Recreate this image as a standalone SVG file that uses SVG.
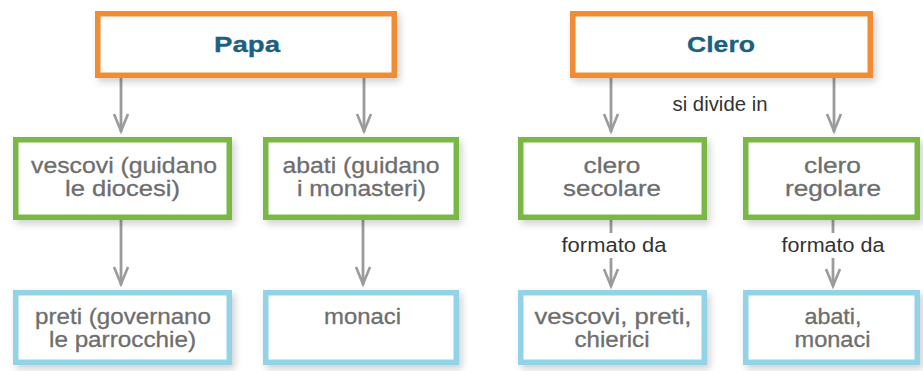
<svg xmlns="http://www.w3.org/2000/svg" width="923" height="371" viewBox="0 0 923 371">
<style>
.bg{fill:#ffffff}
.box{fill:#ffffff;stroke-width:5.5;filter:url(#sh)}
.or{stroke:#f28c31}
.gr{stroke:#79b845}
.bl{stroke:#93d3e8}
.title{font-family:"Liberation Sans",Arial,sans-serif;font-weight:bold;font-size:22px;fill:#1b5f82;stroke:#1b5f82;stroke-width:0.3;text-anchor:middle}
.body{font-family:"Liberation Sans",Arial,sans-serif;font-size:22px;fill:#6e6e6e;stroke:#6e6e6e;stroke-width:0.3;text-anchor:middle}
.lab{font-family:"Liberation Sans",Arial,sans-serif;font-size:19.5px;fill:#333333;text-anchor:middle}
.ln{stroke:#9b9b9b;stroke-width:2.8;fill:none}
.hd{stroke:#9b9b9b;stroke-width:2.6;fill:none;stroke-linejoin:miter}
</style>
<defs>
<filter id="sh" x="-10%" y="-20%" width="125%" height="150%">
<feDropShadow dx="3" dy="4" stdDeviation="3.5" flood-color="#000000" flood-opacity="0.18"/>
</filter>
</defs>
<rect class="bg" x="0" y="0" width="923" height="371"/>

<g id="connectors">
<line class="ln" x1="121" y1="78" x2="121" y2="132"/>
<polyline class="hd" points="114,114 121,131 128,114"/>
<line class="ln" x1="364" y1="78" x2="364" y2="132"/>
<polyline class="hd" points="357,114 364,131 371,114"/>
<line class="ln" x1="611" y1="78" x2="611" y2="132"/>
<polyline class="hd" points="604,114 611,131 618,114"/>
<line class="ln" x1="834" y1="78" x2="834" y2="132"/>
<polyline class="hd" points="827,114 834,131 841,114"/>
<line class="ln" x1="121" y1="220" x2="121" y2="285"/>
<polyline class="hd" points="114,267 121,284 128,267"/>
<line class="ln" x1="363" y1="220" x2="363" y2="285"/>
<polyline class="hd" points="356,267 363,284 370,267"/>
<line class="ln" x1="611" y1="220" x2="611" y2="233"/>
<line class="ln" x1="611" y1="258" x2="611" y2="286"/>
<polyline class="hd" points="604,269 611,286 618,269"/>
<line class="ln" x1="833" y1="220" x2="833" y2="233"/>
<line class="ln" x1="833" y1="258" x2="833" y2="286"/>
<polyline class="hd" points="826,269 833,286 840,269"/>
<text class="lab" x="720" y="111" textLength="95" lengthAdjust="spacingAndGlyphs">si divide in</text>
<text class="lab" x="614" y="252" textLength="105" lengthAdjust="spacingAndGlyphs">formato da</text>
<text class="lab" x="833" y="252" textLength="103" lengthAdjust="spacingAndGlyphs">formato da</text>
</g>

<g id="papa">
<rect class="box or" x="97.75" y="13.75" width="296.5" height="61.5"/>
<text class="title" x="247" y="52" textLength="66" lengthAdjust="spacingAndGlyphs">Papa</text>
</g>
<g id="clero">
<rect class="box or" x="572.75" y="13.75" width="297.5" height="61.5"/>
<text class="title" x="721" y="52" textLength="68" lengthAdjust="spacingAndGlyphs">Clero</text>
</g>

<g id="vescovi">
<rect class="box gr" x="15.75" y="139.75" width="213.5" height="77.5"/>
<text class="body" x="124" y="173" textLength="186" lengthAdjust="spacingAndGlyphs">vescovi (guidano</text>
<text class="body" x="122.5" y="196" textLength="115" lengthAdjust="spacingAndGlyphs">le diocesi)</text>
</g>
<g id="abati">
<rect class="box gr" x="265.75" y="139.75" width="190.5" height="77.5"/>
<text class="body" x="361" y="173" textLength="157" lengthAdjust="spacingAndGlyphs">abati (guidano</text>
<text class="body" x="361.5" y="196" textLength="129" lengthAdjust="spacingAndGlyphs">i monasteri)</text>
</g>
<g id="clero-secolare">
<rect class="box gr" x="520.75" y="139.75" width="183.5" height="77.5"/>
<text class="body" x="612" y="173" textLength="57" lengthAdjust="spacingAndGlyphs">clero</text>
<text class="body" x="612" y="196" textLength="98" lengthAdjust="spacingAndGlyphs">secolare</text>
</g>
<g id="clero-regolare">
<rect class="box gr" x="745.75" y="139.75" width="171.5" height="77.5"/>
<text class="body" x="832.5" y="173" textLength="57" lengthAdjust="spacingAndGlyphs">clero</text>
<text class="body" x="833" y="196" textLength="96" lengthAdjust="spacingAndGlyphs">regolare</text>
</g>

<g id="preti">
<rect class="box bl" x="15.75" y="292.75" width="213.5" height="69.5"/>
<text class="body" x="123" y="324" textLength="176" lengthAdjust="spacingAndGlyphs">preti (governano</text>
<text class="body" x="122.5" y="347" textLength="147" lengthAdjust="spacingAndGlyphs">le parrocchie)</text>
</g>
<g id="monaci">
<rect class="box bl" x="265.75" y="292.75" width="190.5" height="69.5"/>
<text class="body" x="362.5" y="324" textLength="77" lengthAdjust="spacingAndGlyphs">monaci</text>
</g>
<g id="vescovi-preti-chierici">
<rect class="box bl" x="520.75" y="292.75" width="183.5" height="69.5"/>
<text class="body" x="613" y="324" textLength="157" lengthAdjust="spacingAndGlyphs">vescovi, preti,</text>
<text class="body" x="612" y="347" textLength="75" lengthAdjust="spacingAndGlyphs">chierici</text>
</g>
<g id="abati-monaci">
<rect class="box bl" x="745.75" y="292.75" width="171.5" height="69.5"/>
<text class="body" x="833" y="324" textLength="57" lengthAdjust="spacingAndGlyphs">abati,</text>
<text class="body" x="832.5" y="347" textLength="76" lengthAdjust="spacingAndGlyphs">monaci</text>
</g>
</svg>
